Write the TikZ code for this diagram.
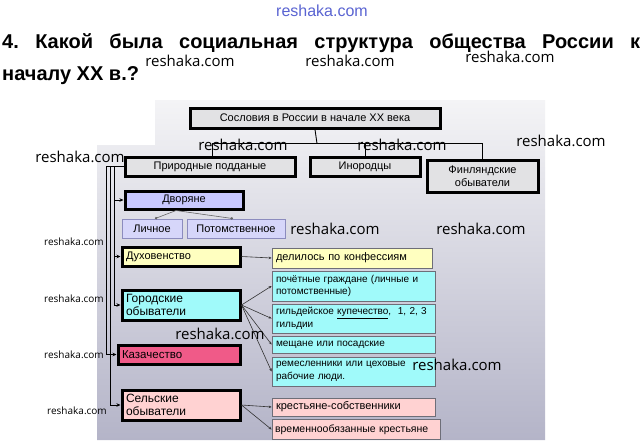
\documentclass[tikz,border=0pt]{standalone}
\usepackage{fontspec}
\setmainfont{Liberation Sans}
\newfontfamily\wmfont{Open Sans}
\usetikzlibrary{arrows.meta}
\definecolor{bgtop}{RGB}{244,244,246}
\definecolor{bgbot}{RGB}{180,180,200}
\definecolor{grayfill}{RGB}{226,226,228}
\definecolor{lav}{RGB}{200,200,255}
\definecolor{lavlt}{RGB}{214,214,250}
\definecolor{lavbd}{RGB}{140,140,190}
\definecolor{yel}{RGB}{255,255,192}
\definecolor{cyanf}{RGB}{160,250,250}
\definecolor{kazf}{RGB}{240,90,136}
\definecolor{pinkf}{RGB}{255,210,210}
\definecolor{thinbd}{RGB}{110,110,120}
\definecolor{wmblue}{RGB}{90,100,210}
\tikzset{
  bigbox/.style={draw=black, line width=3pt, inner sep=0pt, font=\fontsize{11}{12.5}\selectfont},
  smallbox/.style={draw=thinbd, line width=0.8pt, inner sep=0pt, font=\fontsize{11}{12.5}\selectfont},
  conn/.style={draw=black, line width=0.9pt},
  arr/.style={conn, -{Stealth[length=4pt,width=3.5pt]}},
  fan/.style={draw=black!80, line width=0.6pt, -{Stealth[length=3pt,width=2.5pt]}},
  wm/.style={font=\wmfont\fontsize{15}{15}\selectfont, inner sep=0pt},
  wms/.style={font=\wmfont\fontsize{10}{10}\selectfont, inner sep=0pt},
  cyantext/.style={font=\fontsize{10}{12.5}\selectfont},
}
\begin{document}
\begin{tikzpicture}[x=1pt,y=-1pt]
\useasboundingbox (0,0) rectangle (644,440);
\fill[white] (0,0) rectangle (644,440);
% background panel
\shade[top color=bgtop, bottom color=bgbot]
  (155,100) -- (545,100) -- (545,440) -- (97,440) -- (97,145) -- (155,145) -- cycle;

% title
\node[anchor=base west, inner sep=0pt, font=\fontsize{20}{22}\selectfont\bfseries] (t1) at (2,48)
  {\makebox[638pt][s]{4.\ Какой\ была\ социальная\ структура\ общества\ России\ к}};
\node[anchor=base west, inner sep=0pt, font=\fontsize{20}{22}\selectfont\bfseries] (t2) at (2,80)
  {началу ХХ в.?};

% boxes
\node[bigbox, fill=grayfill, minimum width=250pt, minimum height=20pt] (top) at (315,118) {Сословия в России в начале ХХ века};
\node[bigbox, fill=grayfill, minimum width=170pt, minimum height=19pt] (prir) at (210,166.5) {Природные подданые};
\node[bigbox, fill=grayfill, minimum width=110pt, minimum height=19pt] (inor) at (365,166.5) {Инородцы};
\node[bigbox, fill=grayfill, minimum width=111pt, minimum height=32pt, align=center] (fin) at (482.5,176) {Финляндские\\обыватели};

\node[bigbox, fill=lav, minimum width=118pt, minimum height=18pt] (dvor) at (184,200) {Дворяне};
\node[smallbox, draw=lavbd, fill=lavlt, minimum width=60pt, minimum height=19pt] (lich) at (152,228.5) {Личное};
\node[smallbox, draw=lavbd, fill=lavlt, minimum width=98pt, minimum height=19pt] (potom) at (236,228.5) {Потомственное};

\node[bigbox, fill=yel, minimum width=118pt, minimum height=19pt, text width=110pt, align=left] (duh) at (181,256.5) {Духовенство};
\node[smallbox, fill=yel, minimum width=160pt, minimum height=20pt, text width=152pt, align=left] (delil) at (352,258) {делилось по конфессиям};

\node[bigbox, fill=cyanf, minimum width=118pt, minimum height=30pt, text width=110pt, align=left, font=\fontsize{12}{13.5}\selectfont] (gor) at (181,305) {Городские\\обыватели};
\node[smallbox, fill=cyanf, minimum width=163pt, minimum height=30pt, text width=155pt, align=left, cyantext] (poch) at (353.5,286) {почётные граждане (личные и\\потомственные)};
\node[smallbox, fill=cyanf, minimum width=163pt, minimum height=29pt, text width=155pt, align=left, cyantext] (gild) at (353.5,318.5) {гильдейское \underline{купечество}, \ 1, 2, 3\\гильдии};
\node[smallbox, fill=cyanf, minimum width=163pt, minimum height=17pt, text width=155pt, align=left, cyantext] (mesch) at (353.5,344.5) {мещане или посадские};
\node[smallbox, fill=cyanf, minimum width=163pt, minimum height=29pt, text width=155pt, align=left, cyantext] (remes) at (353.5,371.5) {ремесленники или цеховые\\рабочие люди.};

\node[bigbox, fill=kazf, minimum width=122pt, minimum height=19pt, text width=114pt, align=left, font=\fontsize{11.5}{13}\selectfont] (kaz) at (179,354.5) {Казачество};

\node[bigbox, fill=pinkf, minimum width=118pt, minimum height=30pt, text width=110pt, align=left, font=\fontsize{12}{13.5}\selectfont] (sel) at (181,405) {Сельские\\обыватели};
\node[smallbox, fill=pinkf, minimum width=163pt, minimum height=18pt, text width=155pt, align=left] (krest) at (353.5,407) {крестьяне-собственники};
\node[smallbox, fill=pinkf, minimum width=168pt, minimum height=20pt, text width=162pt, align=left, font=\fontsize{10.5}{12}\selectfont] (vrem) at (356,429.5) {временнообязанные крестьяне};

% top tree
\coordinate (hub) at (317,143.5);
\draw[conn] (top.south) -- (hub);
\draw[conn] (hub) -| (prir.north -| 212,0);
\draw[conn] (hub) -| (inor.north);
\draw[conn] (hub) -| (fin.north);

% left spines
\coordinate (s1) at (106,166.5);
\coordinate (s2) at (110,166.5);
\coordinate (s3) at (114,166.5);
\draw[conn] (prir.west) -- (s1);
\draw[arr] (s1) |- (kaz.west);
\draw[arr] (s2) |- (sel.west);
\draw[arr] (s3) |- (gor.west);
\draw[arr] (s3) |- (dvor.west);
\draw[arr] (s3) |- (duh.west);

% nobility split
\draw[draw=black!60, line width=0.6pt, -{Circle[length=2.5pt]}] (dvor.south) ++(-8,0) coordinate (dv1) -- (lich.north -| 155,0);
\draw[draw=black!60, line width=0.6pt, -{Circle[length=2.5pt]}] (dv1) -- (potom.north -| 233,0);

% right arrows
\draw[fan] (duh.east) -- (delil.west);
\draw[fan] (gor.east) -- (poch.west);
\draw[fan] (gor.east) -- (gild.west);
\draw[fan] (gor.east) -- (mesch.west);
\draw[fan] (gor.east) -- (remes.west);
\draw[fan] (sel.east) -- (krest.west);
\draw[fan] (sel.east) -- (vrem.west);

% watermarks
\node[inner sep=0pt, font=\fontsize{16}{16}\selectfont, text=wmblue] (w0) at (322,11) {reshaka.com};
\node[wm] (w1) at (190,61) {reshaka.com};
\node[wm] (w2) at (350,61) {reshaka.com};
\node[wm] (w3) at (510,57) {reshaka.com};
\node[wm] (w4) at (243,145) {reshaka.com};
\node[wm] (w5) at (402,145) {reshaka.com};
\node[wm] (w6) at (561,141) {reshaka.com};
\node[wm] (w7) at (80,157) {reshaka.com};
\node[wms] (w8) at (74,242) {reshaka.com};
\node[wm] (w9) at (335,229) {reshaka.com};
\node[wm] (w10) at (481,229) {reshaka.com};
\node[wms] (w11) at (74,299) {reshaka.com};
\node[wm] (w12) at (220,334) {reshaka.com};
\node[wms] (w13) at (74,355) {reshaka.com};
\node[wm] (w14) at (457,365) {reshaka.com};
\node[wms] (w15) at (77,411) {reshaka.com};
\end{tikzpicture}
\end{document}
